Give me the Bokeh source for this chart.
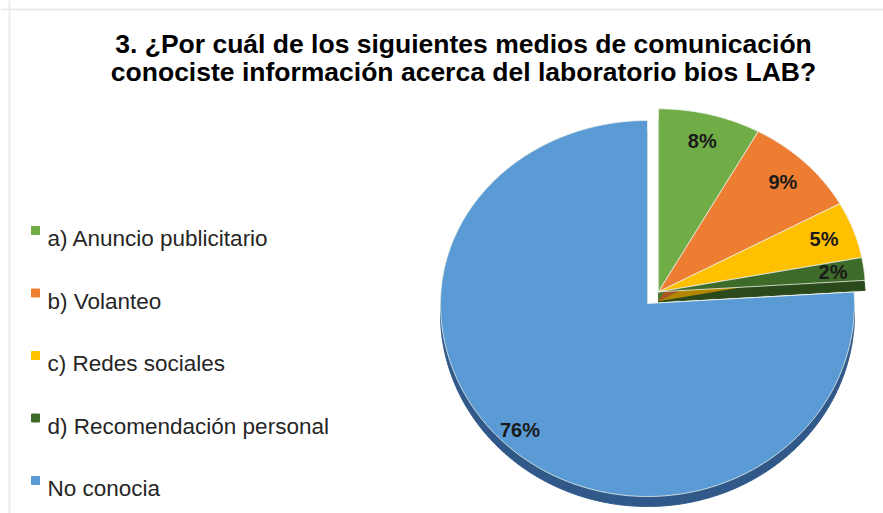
import numpy as np
from bokeh.plotting import figure
from bokeh.models import Range1d, ColumnDataSource, Span
from bokeh.core.properties import value
from bokeh.embed import file_html
from bokeh.resources import INLINE

# ---------------- data ----------------
title_lines = ["3. ¿Por cuál de los siguientes medios de comunicación",
               "conociste información acerca del laboratorio bios LAB?"]
categories = ["a) Anuncio publicitario", "b) Volanteo", "c) Redes sociales",
              "d) Recomendación personal", "No conocia"]
shares = [8, 9, 5, 2, 76]
pct_labels = ["8%", "9%", "5%", "2%", "76%"]
exploded = [True, True, True, True, False]
face_colors = ["#70ad47", "#ed7d31", "#ffc000", "#3f6b2a", "#5b9bd5"]
side_colors = ["#4e7a31", "#a65722", "#b38600", "#2b4a1c", "#30598a"]

# ---------------- layout / style ----------------
W, H = 883, 513
CX, CY = 647, 303
RX, RY_TOP, RY_BOT = 207, 183, 193
DEPTH = 10
EXPLODE = 16
FONT = value("Liberation Sans")


def ell(t, cx, cy, s=1.0):
    t = np.asarray(t, dtype=float)
    ry = np.where(np.cos(t) >= 0, RY_TOP, RY_BOT)
    return cx + s * RX * np.sin(t), cy - s * ry * np.cos(t)


total = float(sum(shares))
cum = np.concatenate([[0.0], np.cumsum(shares)]) / total * 2 * np.pi

# explode offset of the grouped (exploded) slices
ex_idx = [i for i, e in enumerate(exploded) if e]
g_mid = (cum[min(ex_idx)] + cum[max(ex_idx) + 1]) / 2
odx, ody = EXPLODE * np.sin(g_mid), -EXPLODE * np.cos(g_mid)

face_xs, face_ys, side_xs, side_ys = [], [], [], []
lab_x, lab_y = [], []
for i, sh in enumerate(shares):
    a0, a1 = cum[i], cum[i + 1]
    cx = CX + (odx if exploded[i] else 0)
    cy = CY + (ody if exploded[i] else 0)
    n = max(4, int(np.degrees(a1 - a0) * 2))
    t = np.linspace(a0, a1, n)
    ax, ay = ell(t, cx, cy)
    xs = [cx] + list(ax) + [cx]
    ys = [cy] + list(ay) + [cy]
    face_xs.append(xs)
    face_ys.append(ys)
    side_xs.append(xs)
    side_ys.append([y + DEPTH for y in ys])
    f = 0.9 if sh / total > 0.5 else 0.85
    lx, ly = ell((a0 + a1) / 2, cx, cy, f)
    lab_x.append(float(lx))
    lab_y.append(float(ly))

p = figure(width=W, height=H, output_backend="svg", toolbar_location=None,
           x_range=Range1d(0, W), y_range=Range1d(H, 0), min_border=0)
p.axis.visible = False
p.grid.visible = False
p.outline_line_color = None
p.background_fill_color = "white"
p.border_fill_color = "white"

p.add_layout(Span(location=9, dimension="width", line_color="#ebebeb", line_width=2))
p.add_layout(Span(location=9, dimension="height", line_color="#ebebeb", line_width=2))

side_src = ColumnDataSource(dict(xs=side_xs, ys=side_ys, c=side_colors))
p.patches("xs", "ys", source=side_src, fill_color="c", line_color="c", line_width=1)

face_src = ColumnDataSource(dict(xs=face_xs, ys=face_ys, c=face_colors))
p.patches("xs", "ys", source=face_src, fill_color="c", line_color="#eef3ea",
          line_width=1, line_alpha=0.8)

lab_src = ColumnDataSource(dict(x=lab_x, y=lab_y, t=pct_labels))
p.text("x", "y", text="t", source=lab_src, text_font=FONT, text_font_style="bold",
       text_font_size="20px", text_color="#1a1a1a", text_align="center",
       text_baseline="middle")

# title
t_src = ColumnDataSource(dict(x=[463, 463], y=[43, 71], t=title_lines))
p.text("x", "y", text="t", source=t_src, text_font=FONT, text_font_style="bold",
       text_font_size="26.5px", text_color="#000000", text_align="center",
       text_baseline="alphabetic")

# legend
LEG_Y0, LEG_STEP = 238, 62.5
leg_y = [LEG_Y0 + i * LEG_STEP for i in range(len(categories))]
leg_src = ColumnDataSource(dict(sx=[35] * len(categories), tx=[47] * len(categories),
                                sy=[y - 8 for y in leg_y], ty=leg_y,
                                c=face_colors, t=categories))
p.scatter("sx", "sy", source=leg_src, marker="square", size=8, fill_color="c",
          line_color="c")
p.text("tx", "ty", text="t", source=leg_src, text_font=FONT, text_font_size="22.5px",
       text_color="#262626", text_align="left", text_baseline="alphabetic")

open("out.html", "w").write(file_html(p, INLINE))
